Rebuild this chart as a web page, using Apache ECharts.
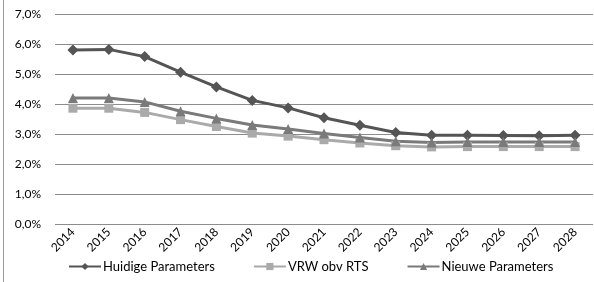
<!DOCTYPE html>
<html>
<head>
<meta charset="utf-8">
<script src="https://cdn.jsdelivr.net/npm/echarts@6/dist/echarts.min.js"></script>
<style>
    html, body { margin: 0; padding: 0; background: #fff; }
    #chart { width: 594px; height: 282px; }
</style>
</head>
<body>
<div id="chart"></div>
<script>
    const years = ['2014', '2015', '2016', '2017', '2018', '2019', '2020', '2021',
        '2022', '2023', '2024', '2025', '2026', '2027', '2028']
    // waarden in procenten
    const huidige = [5.80, 5.82, 5.58, 5.06, 4.57, 4.12, 3.87, 3.54, 3.29, 3.05, 2.96, 2.96, 2.95, 2.94, 2.96]
    const vrw = [3.86, 3.86, 3.72, 3.48, 3.25, 3.03, 2.93, 2.81, 2.70, 2.61, 2.57, 2.58, 2.58, 2.58, 2.58]
    const nieuwe = [4.20, 4.20, 4.07, 3.76, 3.52, 3.30, 3.17, 3.02, 2.88, 2.76, 2.72, 2.73, 2.73, 2.73, 2.73]
    const yTicks = [0, 1, 2, 3, 4, 5, 6, 7]

    const chart = echarts.init(document.getElementById('chart'))
    const font = 'Lato'

    const option = {
        animation: false,
        textStyle: { fontFamily: font },
        grid: { left: 55, right: 1, top: 14, bottom: 58 },
        graphic: [{
            type: 'line',
            shape: { x1: 3.5, y1: 0, x2: 3.5, y2: 282 },
            style: { stroke: '#999', lineWidth: 1 }
        }],
        legend: {
            bottom: 4,
            left: 63,
            itemWidth: 32,
            itemHeight: 9,
            itemGap: 38,
            textStyle: { fontFamily: font, fontSize: 13, color: '#000', padding: [0, 0, 0, -3] },
            data: ['Huidige Parameters', 'VRW obv RTS', 'Nieuwe Parameters']
        },
        xAxis: {
            type: 'category',
            data: years,
            axisLine: { show: false },
            axisTick: { show: false },
            axisLabel: { rotate: 45, fontSize: 12, color: '#000', margin: 6, interval: 0 }
        },
        yAxis: {
            type: 'value',
            min: yTicks[0],
            max: yTicks[yTicks.length - 1],
            interval: 1,
            axisLabel: {
                fontSize: 12, color: '#000', margin: 14,
                formatter: v => v.toFixed(1).replace('.', ',') + '%'
            },
            splitLine: { lineStyle: { color: '#8c8c8c', width: 1 } }
        },
        series: [
            {
                name: 'Huidige Parameters', type: 'line', data: huidige,
                symbol: 'diamond', symbolSize: 11,
                itemStyle: { color: '#555' }, lineStyle: { width: 3, color: '#555' }
            },
            {
                name: 'VRW obv RTS', type: 'line', data: vrw,
                symbol: 'rect', symbolSize: 9,
                itemStyle: { color: '#aaa' }, lineStyle: { width: 3, color: '#aaa' }
            },
            {
                name: 'Nieuwe Parameters', type: 'line', data: nieuwe,
                symbol: 'triangle', symbolSize: 10,
                itemStyle: { color: '#7a7a7a' }, lineStyle: { width: 3, color: '#7a7a7a' }
            }
        ]
    }
    chart.setOption(option)
</script>
</body>
</html>
